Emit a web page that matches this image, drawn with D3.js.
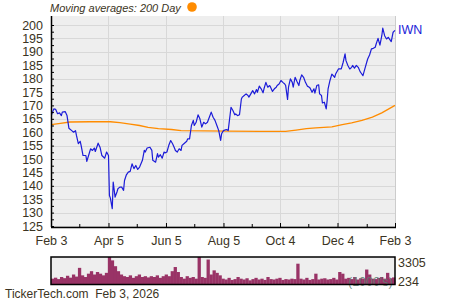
<!DOCTYPE html>
<html>
<head>
<meta charset="utf-8">
<script src="https://cdn.jsdelivr.net/npm/d3@7"></script>
<style>
  body { margin: 0; background: #fff; }
  svg { display: block; }
</style>
</head>
<body>
<svg id="chart" width="450" height="300"></svg>
<script>
// IWN price, 200 day moving average, daily volume (1000's)
var priceDates = ["2025-02-03","2025-02-06","2025-02-08","2025-02-10","2025-02-12","2025-02-14","2025-02-15","2025-02-18","2025-02-20","2025-02-22","2025-02-25","2025-02-27","2025-03-01","2025-03-02","2025-03-04","2025-03-06","2025-03-07","2025-03-09","2025-03-12","2025-03-13","2025-03-16","2025-03-17","2025-03-19","2025-03-21","2025-03-22","2025-03-25","2025-03-27","2025-03-29","2025-04-01","2025-04-03","2025-04-05","2025-04-06","2025-04-07","2025-04-09","2025-04-10","2025-04-12","2025-04-14","2025-04-15","2025-04-17","2025-04-19","2025-04-21","2025-04-22","2025-04-24","2025-04-26","2025-04-28","2025-04-30","2025-05-02","2025-05-04","2025-05-06","2025-05-08","2025-05-11","2025-05-13","2025-05-14","2025-05-16","2025-05-19","2025-05-21","2025-05-22","2025-05-25","2025-05-27","2025-05-28","2025-05-30","2025-06-01","2025-06-03","2025-06-04","2025-06-06","2025-06-08","2025-06-10","2025-06-12","2025-06-14","2025-06-15","2025-06-17","2025-06-19","2025-06-21","2025-06-22","2025-06-24","2025-06-27","2025-06-28","2025-06-30","2025-07-02","2025-07-04","2025-07-05","2025-07-07","2025-07-09","2025-07-11","2025-07-13","2025-07-15","2025-07-17","2025-07-19","2025-07-21","2025-07-23","2025-07-25","2025-07-27","2025-07-29","2025-07-31","2025-08-02","2025-08-03","2025-08-05","2025-08-08","2025-08-10","2025-08-13","2025-08-15","2025-08-17","2025-08-18","2025-08-20","2025-08-22","2025-08-24","2025-08-25","2025-08-27","2025-08-29","2025-08-31","2025-09-01","2025-09-03","2025-09-05","2025-09-07","2025-09-09","2025-09-10","2025-09-12","2025-09-14","2025-09-16","2025-09-17","2025-09-19","2025-09-21","2025-09-23","2025-09-24","2025-09-26","2025-09-28","2025-09-30","2025-10-01","2025-10-03","2025-10-05","2025-10-07","2025-10-09","2025-10-10","2025-10-12","2025-10-13","2025-10-15","2025-10-17","2025-10-18","2025-10-20","2025-10-22","2025-10-24","2025-10-25","2025-10-27","2025-10-29","2025-10-31","2025-11-02","2025-11-04","2025-11-05","2025-11-07","2025-11-09","2025-11-10","2025-11-12","2025-11-14","2025-11-15","2025-11-17","2025-11-18","2025-11-20","2025-11-22","2025-11-23","2025-11-24","2025-11-26","2025-11-28","2025-12-01","2025-12-02","2025-12-05","2025-12-06","2025-12-08","2025-12-10","2025-12-12","2025-12-13","2025-12-15","2025-12-17","2025-12-19","2025-12-20","2025-12-22","2025-12-24","2025-12-26","2025-12-28","2025-12-29","2025-12-31","2026-01-02","2026-01-04","2026-01-05","2026-01-07","2026-01-09","2026-01-11","2026-01-13","2026-01-14","2026-01-16","2026-01-18","2026-01-20","2026-01-21","2026-01-23","2026-01-25","2026-01-27","2026-01-28","2026-01-30","2026-02-01","2026-02-03"];
var priceValues = [166.0,168.7,168.5,166.9,167.2,166.2,167.5,167.7,166.2,161.5,160.6,160.0,160.6,158.8,155.7,156.6,155.0,151.3,151.3,149.1,152.6,153.8,153.2,154.1,152.8,155.9,154.4,151.3,150.3,152.6,151.3,136.4,135.4,131.5,141.4,135.8,137.7,138.9,139.5,139.5,138.3,142.0,144.1,145.1,145.4,148.2,146.4,147.6,146.1,147.0,149.5,153.2,152.6,154.1,154.4,153.2,149.5,148.8,152.0,150.7,151.6,150.3,152.6,152.3,152.6,155.1,156.9,155.7,154.1,153.2,152.6,153.8,153.2,155.1,155.7,156.6,157.5,157.5,162.5,164.4,162.5,163.7,166.5,165.0,161.9,163.7,163.1,163.7,165.6,167.5,165.6,164.4,162.5,160.6,156.9,159.4,160.6,161.0,160.6,169.3,168.1,166.5,166.8,166.2,166.5,172.4,173.1,173.7,174.3,173.7,173.1,174.3,175.5,174.3,175.9,174.9,177.2,176.2,174.7,176.2,178.6,176.8,177.4,176.8,175.2,176.2,176.8,177.4,178.0,179.3,178.6,178.0,177.4,172.2,176.8,179.9,178.6,176.8,180.5,178.9,177.4,179.3,181.4,180.5,178.6,177.2,176.8,176.4,174.9,176.2,174.6,177.4,177.7,174.3,173.7,170.9,171.2,168.7,171.8,176.2,179.3,181.7,180.5,181.7,183.6,183.6,183.6,186.1,189.2,186.7,184.9,183.6,184.2,184.9,183.9,184.9,184.2,182.6,182.1,181.1,183.6,186.1,187.3,188.8,191.1,191.3,191.7,192.9,195.0,192.5,196.0,198.8,196.0,194.8,195.4,194.8,193.8,197.3,198.0];

var maDates = ["2025-02-03","2025-02-13","2025-02-23","2025-03-16","2025-04-07","2025-04-17","2025-04-28","2025-05-08","2025-05-17","2025-05-28","2025-06-11","2025-06-21","2025-08-10","2025-09-12","2025-10-10","2025-10-21","2025-11-01","2025-11-11","2025-11-28","2025-12-09","2025-12-19","2025-12-30","2026-01-10","2026-01-20","2026-02-03"];
var maValues = [162.8,163.3,163.8,163.9,163.9,163.6,163.0,162.5,161.8,161.3,161.0,160.6,160.4,160.3,160.3,160.8,161.3,161.6,162.0,162.8,163.5,164.4,165.6,167.2,170.0];

var volume = [700,820,650,900,760,1050,820,1200,950,2000,1100,900,1300,1600,1200,1500,1300,1100,1400,3305,2900,2200,1600,1200,1000,900,1100,800,1000,1200,900,1000,850,1000,900,1100,800,1000,1200,1000,1600,2100,1500,900,700,1000,800,900,700,3305,900,800,3000,1200,1700,1400,1100,700,600,800,550,650,900,700,600,750,500,650,800,600,700,550,900,650,600,700,800,550,650,600,700,650,2500,700,600,800,550,650,1300,600,700,750,600,650,800,600,1500,1300,700,800,650,900,600,750,700,1800,1200,700,650,800,900,700,1400,750,850];

var yTicks = [125,130,135,140,145,150,155,160,165,170,175,180,185,190,195,200];
var xTicks = ["2025-02-03","2025-04-05","2025-06-05","2025-08-05","2025-10-04","2025-12-04","2026-02-03"];
var xTickLabels = ["Feb 3","Apr 5","Jun 5","Aug 5","Oct 4","Dec 4","Feb 3"];
var xMinorTicks = ["2025-03-05","2025-05-05","2025-07-05","2025-09-04","2025-11-03","2026-01-04"];
var volMax = 3305, volMin = 234;

var parse = d3.timeParse("%Y-%m-%d");
var font = "'Liberation Sans', Arial, sans-serif";
var textColor = "#3b3423";

var svg = d3.select("#chart");
var pL = 51, pR = 395, pT = 16, pB = 227;

var x = d3.scaleTime()
  .domain([parse("2025-02-03"), parse("2026-02-03")])
  .range([pL, pR]);
var y = d3.scaleLinear()
  .domain([125, 200])
  .range([226, 25]);

// plot background
svg.append("rect")
  .attr("x", pL).attr("y", pT)
  .attr("width", pR - pL).attr("height", pB - pT)
  .attr("fill", "#eeeeee");

// grid
svg.append("g").selectAll("line").data(yTicks).join("line")
  .attr("x1", pL).attr("x2", pR)
  .attr("y1", d => Math.round(y(d)) + 0.5).attr("y2", d => Math.round(y(d)) + 0.5)
  .attr("stroke", "#d8d8d8").attr("stroke-width", 1);
svg.append("g").selectAll("line").data(xTicks.slice(1, -1)).join("line")
  .attr("x1", d => Math.round(x(parse(d))) + 0.5).attr("x2", d => Math.round(x(parse(d))) + 0.5)
  .attr("y1", pT).attr("y2", pB)
  .attr("stroke", "#d8d8d8").attr("stroke-width", 1);
svg.append("line")
  .attr("x1", pR + 0.5).attr("x2", pR + 0.5)
  .attr("y1", pT).attr("y2", pB)
  .attr("stroke", "#cccccc");

// clip for series
svg.append("clipPath").attr("id", "clip")
  .append("rect").attr("x", pL).attr("y", pT)
  .attr("width", pR - pL + 1).attr("height", pB - pT);

var line = d3.line()
  .x(d => x(d[0]))
  .y(d => y(d[1]));

svg.append("path")
  .datum(maDates.map((d, i) => [parse(d), maValues[i]]))
  .attr("clip-path", "url(#clip)")
  .attr("d", line)
  .attr("fill", "none")
  .attr("stroke", "#ff8c00")
  .attr("stroke-width", 1.3);

svg.append("path")
  .datum(priceDates.map((d, i) => [parse(d), priceValues[i]]))
  .attr("clip-path", "url(#clip)")
  .attr("d", line)
  .attr("fill", "none")
  .attr("stroke", "#1c1cd8")
  .attr("stroke-width", 1.2)
  .attr("stroke-linejoin", "round");

// y axis: labels, major and minor ticks pointing into the plot
var yAxis = svg.append("g")
  .attr("transform", "translate(" + pL + ",0)")
  .call(d3.axisLeft(y).tickValues(yTicks).tickSize(0).tickPadding(8));
yAxis.select(".domain").remove();
yAxis.selectAll("text")
  .attr("font-family", font).attr("font-size", "12.5px").attr("fill", textColor);

var yMinor = svg.append("g")
  .attr("transform", "translate(" + pL + ",0)")
  .call(d3.axisRight(y).tickValues(d3.range(125, 202.5, 2.5)).tickSize(3).tickFormat(""));
yMinor.select(".domain").remove();
yMinor.selectAll("line").attr("stroke", "#000");

svg.append("line")
  .attr("x1", pL + 0.5).attr("x2", pL + 0.5)
  .attr("y1", pT).attr("y2", pB)
  .attr("stroke", "#000").attr("stroke-width", 1.5);

// x axis
var xAxis = svg.append("g")
  .attr("transform", "translate(0," + pB + ")")
  .call(d3.axisBottom(x).tickValues(xTicks.map(parse)).tickSize(0).tickPadding(9)
    .tickFormat((d, i) => xTickLabels[i]));
xAxis.select(".domain").remove();
xAxis.selectAll("text")
  .attr("font-family", font).attr("font-size", "12.5px").attr("fill", textColor);

var xMajor = svg.append("g")
  .attr("transform", "translate(0," + pB + ")")
  .call(d3.axisTop(x).tickValues(xTicks.map(parse)).tickSize(4).tickFormat(""));
xMajor.select(".domain").remove();
xMajor.selectAll("line").attr("stroke", "#000");
var xMinor = svg.append("g")
  .attr("transform", "translate(0," + pB + ")")
  .call(d3.axisTop(x).tickValues(xMinorTicks.map(parse)).tickSize(3).tickFormat(""));
xMinor.select(".domain").remove();
xMinor.selectAll("line").attr("stroke", "#000");

svg.append("line")
  .attr("x1", pL).attr("x2", pR + 1)
  .attr("y1", pB + 0.5).attr("y2", pB + 0.5)
  .attr("stroke", "#000").attr("stroke-width", 1.5);

// legend / title
svg.append("text")
  .attr("x", 50).attr("y", 12)
  .attr("font-family", font).attr("font-size", "11px").attr("font-style", "italic")
  .attr("fill", textColor)
  .text("Moving averages: 200 Day");
svg.append("circle")
  .attr("cx", 192).attr("cy", 7).attr("r", 4.8)
  .attr("fill", "#ff8c00");

svg.append("text")
  .attr("x", 398).attr("y", 33.5)
  .attr("font-family", font).attr("font-size", "12.5px")
  .attr("fill", "#1c1cd8")
  .text("IWN");

// volume panel
var vTop = 257, vBottom = 284.5;
var xv = d3.scaleBand()
  .domain(d3.range(volume.length))
  .range([pL, pR])
  .padding(0);
var yv = d3.scaleLinear()
  .domain([0, volMax])
  .range([vBottom, vTop]);

svg.append("rect")
  .attr("x", pL).attr("y", vTop)
  .attr("width", pR - pL).attr("height", vBottom - vTop)
  .attr("fill", "#eeeeee");

svg.append("g").selectAll("rect").data(volume).join("rect")
  .attr("x", (d, i) => xv(i))
  .attr("width", xv.bandwidth() + 0.3)
  .attr("y", d => yv(d))
  .attr("height", d => vBottom - yv(d))
  .attr("fill", "#993366");

svg.append("text")
  .attr("x", 348).attr("y", 286)
  .attr("font-family", font).attr("font-size", "12.5px")
  .attr("fill", "#5e7f72").attr("fill-opacity", 0.85)
  .text("(1000's)");

svg.append("rect")
  .attr("x", pL).attr("y", vTop)
  .attr("width", pR - pL).attr("height", vBottom - vTop)
  .attr("fill", "none").attr("stroke", "#000").attr("stroke-width", 1.5);

svg.append("text")
  .attr("x", 398).attr("y", 267)
  .attr("font-family", font).attr("font-size", "12.5px").attr("fill", textColor)
  .text(volMax);
svg.append("text")
  .attr("x", 398).attr("y", 286)
  .attr("font-family", font).attr("font-size", "12.5px").attr("fill", textColor)
  .text(volMin);

// footer
svg.append("text")
  .attr("x", 5).attr("y", 298)
  .attr("font-family", font).attr("font-size", "12px").attr("fill", textColor)
  .style("white-space", "pre")
  .text("TickerTech.com  Feb 3, 2026");
</script>
</body>
</html>
